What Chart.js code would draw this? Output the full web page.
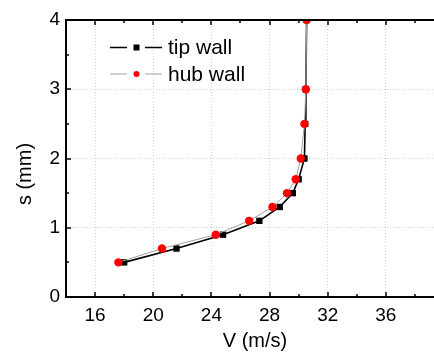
<!DOCTYPE html>
<html>
<head>
<meta charset="utf-8">
<script src="https://cdn.jsdelivr.net/npm/chart.js@4/dist/chart.umd.min.js"></script>
<style>
html,body{margin:0;padding:0;background:#fff;overflow:hidden;}
#wrap{width:460px;height:359px;position:relative;}
</style>
</head>
<body>
<div id="wrap"><canvas id="c" width="460" height="359"></canvas></div>
<script>
// ---- data ----
const seriesNames = ["tip wall", "hub wall"];
const sValues = [0.5, 0.7, 0.9, 1.1, 1.3, 1.5, 1.7, 2.0, 2.5, 3.0, 4.0];
const tipV = [18.0, 21.6, 24.8, 27.3, 28.7, 29.6, 30.0, 30.4, 30.45, 30.5, 30.55];
const hubV = [17.6, 20.6, 24.3, 26.6, 28.2, 29.2, 29.8, 30.15, 30.4, 30.5, 30.55];
const xTickValues = [16, 20, 24, 28, 32, 36];
const xMajorMarks = [16, 20, 24, 28, 32, 36, 40];
const xMinorValues = [14, 18, 22, 26, 30, 34, 38];
const yTickValues = [0, 1, 2, 3, 4];
const yMinorValues = [0.5, 1.5, 2.5, 3.5];
const xTitle = "V (m/s)";
const yTitle = "s (mm)";

const FONT = "'Liberation Sans', Arial, sans-serif";

function pts(v){ return v.map((x,i)=>({x:x, y:sValues[i]})); }

const framePlugin = {
  id: 'frame',
  afterDraw(chart){
    const ctx = chart.ctx, a = chart.chartArea;
    const xs = chart.scales.x, ys = chart.scales.y;
    ctx.save();
    ctx.strokeStyle = '#000';
    ctx.lineWidth = 1.5;
    ctx.beginPath();
    xMajorMarks.forEach(v=>{ const p = Math.round(xs.getPixelForValue(v));
      ctx.moveTo(p, a.bottom); ctx.lineTo(p, a.bottom-5);
      ctx.moveTo(p, a.top); ctx.lineTo(p, a.top+5); });
    xMinorValues.forEach(v=>{ const p = Math.round(xs.getPixelForValue(v));
      ctx.moveTo(p, a.bottom); ctx.lineTo(p, a.bottom-3);
      ctx.moveTo(p, a.top); ctx.lineTo(p, a.top+3); });
    yTickValues.forEach(v=>{ const p = Math.round(ys.getPixelForValue(v));
      ctx.moveTo(a.left, p); ctx.lineTo(a.left+5, p); });
    yMinorValues.forEach(v=>{ const p = Math.round(ys.getPixelForValue(v));
      ctx.moveTo(a.left, p); ctx.lineTo(a.left+3, p); });
    ctx.stroke();
    ctx.lineWidth = 2;
    ctx.strokeRect(a.left, a.top, a.right-a.left, a.bottom-a.top);
    ctx.fillStyle = '#000';
    ctx.font = '20px ' + FONT;
    ctx.textAlign = 'center';
    ctx.textBaseline = 'middle';
    ctx.translate(25, 174);
    ctx.rotate(-Math.PI/2);
    ctx.fillText(yTitle, 0, 0);
    ctx.restore();

    ctx.save();
    const rows = [
      {ds: chart.data.datasets[0], y: 47.5},
      {ds: chart.data.datasets[1], y: 74}
    ];
    rows.forEach(r=>{
      ctx.strokeStyle = r.ds.borderColor;
      ctx.lineWidth = r.ds.borderWidth;
      ctx.beginPath();
      ctx.moveTo(110, r.y); ctx.lineTo(127, r.y);
      ctx.moveTo(145, r.y); ctx.lineTo(162, r.y);
      ctx.stroke();
      ctx.fillStyle = r.ds.pointBackgroundColor;
      if (r.ds.pointStyle === 'rect') {
        ctx.fillRect(133.5, r.y-3, 6, 6);
      } else {
        ctx.beginPath(); ctx.arc(136.5, r.y, 3, 0, Math.PI*2); ctx.fill();
      }
      ctx.fillStyle = '#000';
      ctx.font = '21px ' + FONT;
      ctx.textAlign = 'left';
      ctx.textBaseline = 'middle';
      ctx.fillText(r.ds.label, 168, r.y+1);
    });
    ctx.restore();
  }
};

new Chart(document.getElementById('c'), {
  type: 'scatter',
  data: {
    datasets: [
      { label: seriesNames[0], data: pts(tipV), showLine: true,
        borderColor: '#000', borderWidth: 1.6,
        pointStyle: 'rect', pointRadius: 4.5, pointHoverRadius: 4.5,
        pointBackgroundColor: '#000', pointBorderColor: '#000', pointBorderWidth: 0, order: 1 },
      { label: seriesNames[1], data: pts(hubV), showLine: true,
        borderColor: '#a0a0a0', borderWidth: 1,
        pointStyle: 'circle', pointRadius: 4.2, pointHoverRadius: 4.2,
        pointBackgroundColor: '#ff0000', pointBorderColor: '#ff0000', pointBorderWidth: 0, order: 0 }
    ]
  },
  options: {
    responsive: false,
    animation: false,
    events: [],
    layout: { padding: { top: 20, right: 16, left: 0, bottom: 0 } },
    plugins: { legend: { display: false }, tooltip: { enabled: false } },
    scales: {
      x: {
        type: 'linear', min: 14, max: 40,
        afterBuildTicks: s => { s.ticks = xTickValues.map(v=>({value:v})); },
        afterFit: s => { s.height = 62; },
        ticks: { color: '#000', font: { family: FONT, size: 19 }, padding: 7, maxRotation: 0, autoSkip: false },
        grid: { color: '#d0d0d0', lineWidth: 1, drawTicks: false },
        border: { display: false, dash: [1, 2] },
        title: { display: true, text: xTitle, color: '#000', font: { family: FONT, size: 20 }, padding: { top: 0, bottom: 6 } }
      },
      y: {
        type: 'linear', min: 0, max: 4,
        afterBuildTicks: s => { s.ticks = yTickValues.map(v=>({value:v})); },
        afterFit: s => { s.width = 66; },
        ticks: { color: '#000', font: { family: FONT, size: 19 }, padding: 6 },
        grid: { color: '#d0d0d0', lineWidth: 1, drawTicks: false },
        border: { display: false, dash: [1, 2] }
      }
    }
  },
  plugins: [framePlugin]
});
</script>
</body>
</html>
